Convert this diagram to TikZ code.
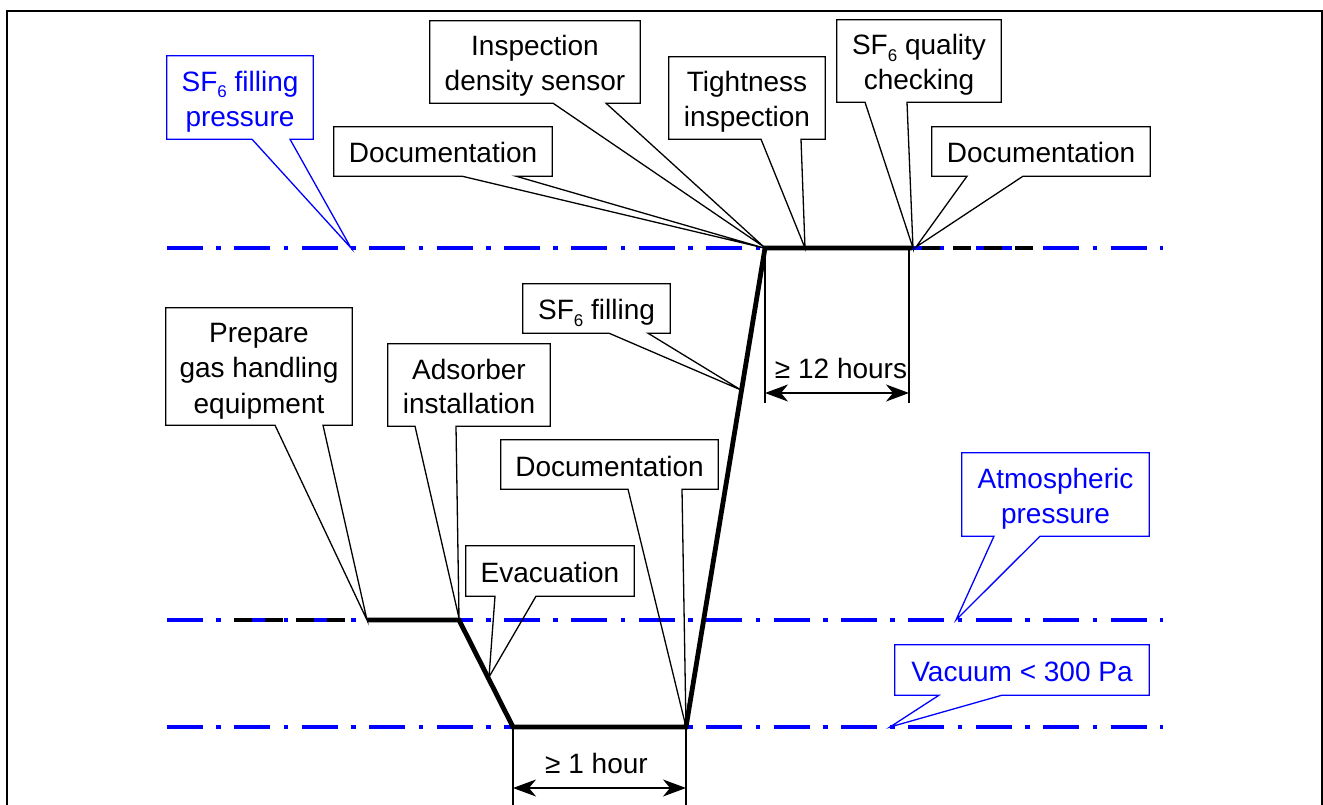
\documentclass[tikz,border=0pt]{standalone}
\usepackage{fontspec}
\setmainfont{Liberation Sans}
\usetikzlibrary{arrows.meta}
\definecolor{levelblue}{RGB}{0,0,255}
% subscript six for SF6
\newcommand\subsix{\raisebox{-6.5pt}[0pt][0pt]{\fontsize{17}{17}\selectfont 6}}
% fixed line box so every text line is centred by its full line height
\newcommand\linestrut{\rule[-5.5pt]{0pt}{34pt}}
% callout outline: box, tail base x1 and x2 on the lower edge, tail tip
\newcommand\balloon[5][black]{%
  \draw[balloonline,draw=#1] (#2.south west) -- (#3,0 |- #2.south) -- (#5)
    -- (#4,0 |- #2.south) -- (#2.south east) -- (#2.north east)
    -- (#2.north west) -- cycle;}
\begin{document}
\begin{tikzpicture}[x=1pt,y=-1pt,
  level/.style={draw=levelblue, line width=4.3pt,
    dash pattern=on 36pt off 13.4pt on 4.6pt off 13.4pt},
  hatch/.style={draw=black, line width=4.3pt, dash pattern=on 18pt off 13pt},
  course/.style={line width=4.8pt, line join=miter},
  thinline/.style={line width=1.3pt},
  balloonline/.style={line width=1.3pt},
  calloutbox/.style={inner sep=0pt, align=center,
    font=\fontsize{28}{34}\selectfont},
  dimarrow/.style={line width=1.3pt,
    {Stealth[length=23pt,width=17pt,inset=7pt]}-{Stealth[length=23pt,width=17pt,inset=7pt]}},
  dimlabel/.style={anchor=base, inner sep=0pt, font=\fontsize{28}{34}\selectfont}
]
\useasboundingbox (0,0) rectangle (1323,805);

% open frame
\draw[line width=2.2pt] (7,805) -- (7,11) -- (1322,11) -- (1322,805);

% pressure levels
\coordinate (fillL) at (167,248);  \coordinate (fillR) at (1163,248);
\coordinate (atmL)  at (167,620);  \coordinate (atmR)  at (1163,620);
\coordinate (vacL)  at (167,727);  \coordinate (vacR)  at (1163,727);
\draw[level] (fillL) -- (fillR);
\draw[level] (atmL) -- (atmR);
\draw[level] (vacL) -- (vacR);

% dashed continuation of the pressure course
\coordinate (hl1) at (234,620); \coordinate (hl2) at (347,620);
\coordinate (hr1) at (922,248); \coordinate (hr2) at (1033,248);
\draw[hatch] (hl1) -- (hl2);
\draw[hatch] (hr1) -- (hr2);

% pressure course
\coordinate (p1) at (367,620);
\coordinate (p2) at (459,620);
\coordinate (p3) at (513,727);
\coordinate (p4) at (686,727);
\coordinate (p5) at (765,248);
\coordinate (p6) at (912,248);
\draw[course] (p1) -- (p2) -- (p3) -- (p4) -- (p5) -- (p6);

% duration: evacuation
\coordinate (e1) at (513,805); \coordinate (e2) at (686,805);
\coordinate (ea) at (513,788); \coordinate (eb) at (686,788);
\draw[thinline] (p3) -- (e1);
\draw[thinline] (p4) -- (e2);
\draw[dimarrow] (ea) -- (eb);
\node[dimlabel] (hour) at (596.5,773) {≥ 1 hour};

% duration: standing time
\coordinate (s0) at (909,248);
\coordinate (s1) at (765,403); \coordinate (s2) at (909,403);
\coordinate (sa) at (765,393); \coordinate (sb) at (909,393);
\draw[thinline] (p5) -- (s1);
\draw[thinline] (s0) -- (s2);
\draw[dimarrow] (sa) -- (sb);
\node[dimlabel] (hours) at (841,378) {≥ 12 hours};

% tail tips
\coordinate (tSfp)   at (351,248);
\coordinate (tDoc1)  at (764,248);
\coordinate (tInsp)  at (764,247);
\coordinate (tTight) at (805,248);
\coordinate (tQual)  at (913,248);
\coordinate (tDoc2)  at (916,247);
\coordinate (tPrep)  at (367,620);
\coordinate (tAds)   at (459,618);
\coordinate (tDoc3)  at (686,727);
\coordinate (tEvac)  at (489,677);
\coordinate (tFill)  at (741,390);
\coordinate (tAtm)   at (956,620);
\coordinate (tVac)   at (890,727);

% callout boxes
\node[calloutbox, text=levelblue, minimum width=146pt, minimum height=83pt]
  (sfp) at (240,97.5) {\linestrut SF\subsix{} filling\\\linestrut pressure};
\node[calloutbox, minimum width=218pt, minimum height=49pt]
  (doc1) at (443,151.5) {\linestrut Documentation};
\node[calloutbox, minimum width=210pt, minimum height=82pt]
  (insp) at (535,62) {\linestrut Inspection\\\linestrut density sensor};
\node[calloutbox, minimum width=156pt, minimum height=82pt]
  (tight) at (747,98) {\linestrut Tightness\\\linestrut inspection};
\node[calloutbox, minimum width=164pt, minimum height=82pt]
  (qual) at (919,61) {\linestrut SF\subsix{} quality\\\linestrut checking};
\node[calloutbox, minimum width=218pt, minimum height=49pt]
  (doc2) at (1041,151.5) {\linestrut Documentation};
\node[calloutbox, minimum width=186pt, minimum height=117pt]
  (prep) at (259,366.5) {\linestrut Prepare\\\linestrut gas handling\\\linestrut equipment};
\node[calloutbox, minimum width=162pt, minimum height=82pt]
  (ads) at (469,385) {\linestrut Adsorber\\\linestrut installation};
\node[calloutbox, minimum width=217pt, minimum height=49pt]
  (doc3) at (609.5,464.5) {\linestrut Documentation};
\node[calloutbox, minimum width=168pt, minimum height=50pt]
  (evac) at (550,571) {\linestrut Evacuation};
\node[calloutbox, minimum width=147pt, minimum height=49pt]
  (fill) at (596.5,308.5) {\linestrut SF\subsix{} filling};
\node[calloutbox, text=levelblue, minimum width=187pt, minimum height=83pt]
  (atm) at (1055.5,494.5) {\linestrut Atmospheric\\\linestrut pressure};
\node[calloutbox, text=levelblue, minimum width=254pt, minimum height=50pt]
  (vac) at (1022,670) {\linestrut Vacuum < 300 Pa};

% callout outlines with their tails
\balloon[levelblue]{sfp}{252}{290}{tSfp}
\balloon{doc1}{462}{516}{tDoc1}
\balloon{insp}{553}{606}{tInsp}
\balloon{tight}{761}{801}{tTight}
\balloon{qual}{865}{907}{tQual}
\balloon{doc2}{967}{1023}{tDoc2}
\balloon{prep}{275}{323}{tPrep}
\balloon{ads}{415}{456}{tAds}
\balloon{doc3}{628}{682}{tDoc3}
\balloon{evac}{495}{536}{tEvac}
\balloon{fill}{609}{648}{tFill}
\balloon[levelblue]{atm}{994}{1040}{tAtm}
\balloon[levelblue]{vac}{939}{1002}{tVac}
\end{tikzpicture}
\end{document}
